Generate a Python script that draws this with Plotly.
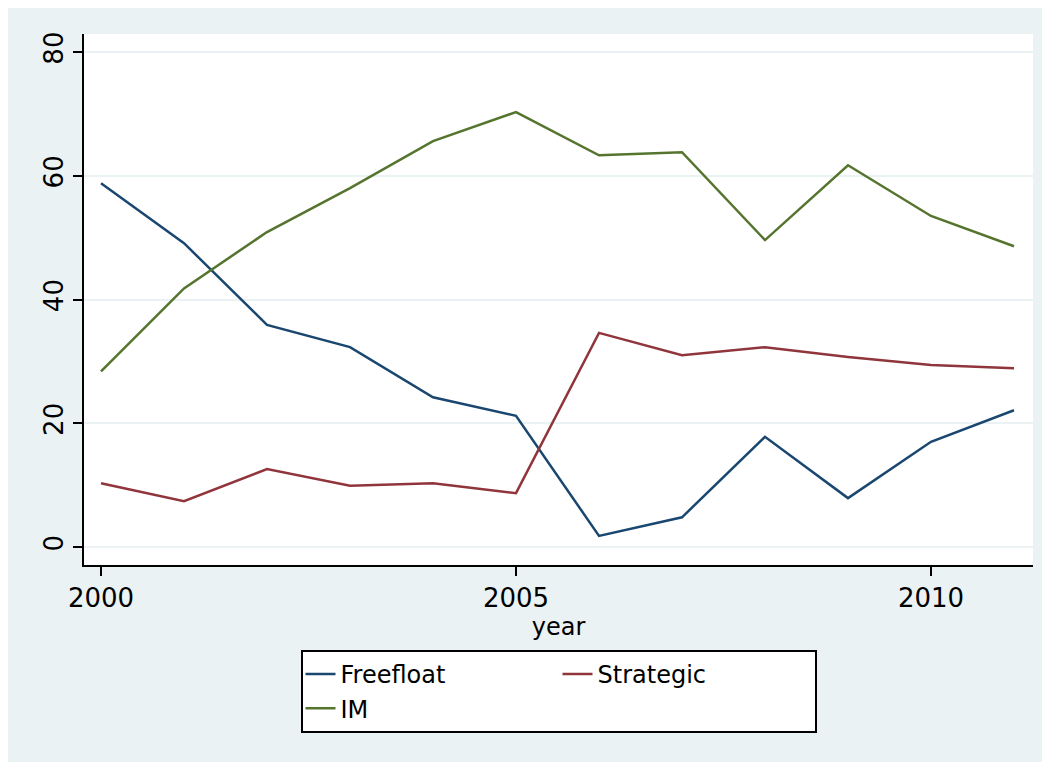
import plotly.graph_objects as go

# share of ownership by year
years = list(range(2000, 2012))
freefloat = [58.8, 49.1, 35.9, 32.3, 24.2, 21.2, 1.8, 4.8, 17.8, 7.9, 17.0, 22.1]
strategic = [10.3, 7.4, 12.6, 9.9, 10.3, 8.7, 34.6, 31.0, 32.3, 30.7, 29.4, 28.9]
im = [28.4, 41.8, 50.9, 58.0, 65.6, 70.3, 63.3, 63.8, 49.6, 61.7, 53.5, 48.6]

x_ticks = [2000, 2005, 2010]
y_ticks = [0, 20, 40, 60, 80]

BG = "#EAF2F3"
FONT = "DejaVu Sans"

fig = go.Figure()
# groups give the Stata-like two column legend: (Freefloat, IM) | (Strategic)
fig.add_trace(go.Scatter(x=years, y=freefloat, name="Freefloat", mode="lines",
                         line=dict(color="#1A476F", width=2.5), legendgroup="a"))
fig.add_trace(go.Scatter(x=years, y=strategic, name="Strategic", mode="lines",
                         line=dict(color="#90353B", width=2.5), legendgroup="b"))
fig.add_trace(go.Scatter(x=years, y=im, name="IM", mode="lines",
                         line=dict(color="#55752F", width=2.5), legendgroup="a"))

# page body has an 8px margin, so the figure is a little smaller than the window
fig.update_layout(
    width=1040, height=754,
    margin=dict(l=76, r=15, t=26, b=197),
    paper_bgcolor=BG,
    plot_bgcolor="white",
    font=dict(family=FONT, size=24, color="black"),
    showlegend=True,
    legend=dict(
        orientation="h", traceorder="grouped", tracegroupgap=0,
        x=0.5, xanchor="center", y=-0.16, yanchor="top",
        bordercolor="black", borderwidth=2, bgcolor="white",
        font=dict(size=24), entrywidth=212,
    ),
)

fig.update_xaxes(
    range=[1999.795, 2011.229], tickvals=x_ticks,
    showline=True, linecolor="black", linewidth=2,
    ticks="outside", ticklen=9, tickwidth=2, tickcolor="black",
    showgrid=False, zeroline=False,
    tickfont=dict(size=26),
    title=dict(text="year", standoff=0, font=dict(size=24)),
)
fig.update_yaxes(
    range=[-2.91, 82.91], tickvals=y_ticks,
    showline=True, linecolor="black", linewidth=2,
    ticks="outside", ticklen=9, tickwidth=2, tickcolor="black",
    showgrid=True, gridcolor=BG, gridwidth=2, zeroline=False,
    tickangle=-90, tickfont=dict(size=26),
)

fig.write_html("out.html")
